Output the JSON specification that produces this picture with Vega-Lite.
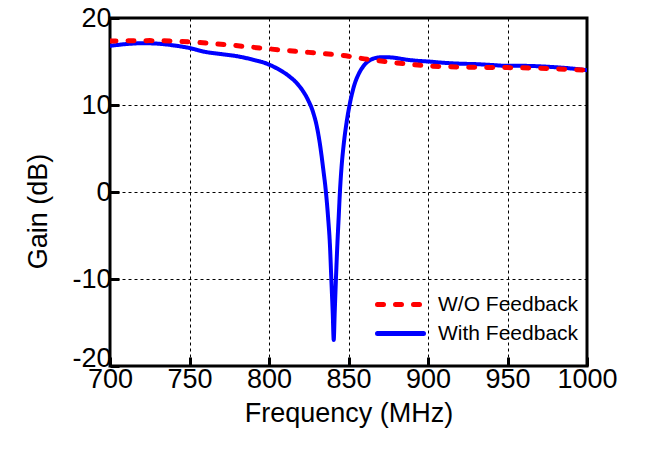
{
  "$schema": "https://vega.github.io/schema/vega-lite/v6.json",
  "width": 477,
  "height": 348,
  "autosize": "none",
  "padding": {"left": 110, "top": 18, "right": 60, "bottom": 89},
  "background": "white",
  "config": {
    "font": "Liberation Sans",
    "view": {"stroke": "black", "strokeWidth": 3},
    "axis": {
      "grid": true,
      "gridColor": "black",
      "gridDash": [3, 3],
      "gridWidth": 1,
      "gridOpacity": 1,
      "domain": false,
      "ticks": true,
      "tickSize": -9,
      "tickWidth": 3,
      "tickColor": "black",
      "labelFontSize": 27,
      "labelColor": "black",
      "labelFont": "Liberation Sans",
      "labelOverlap": false,
      "labelFlush": false,
      "labelExpr": "'' + datum.value",
      "titleFont": "Liberation Sans",
      "titleFontSize": 27,
      "titleFontWeight": "normal",
      "titleColor": "black"
    }
  },
  "datasets": {
    "gain": [
      {"f": 700, "g": 17.35, "s": "W/O Feedback"},
      {"f": 725, "g": 17.4, "s": "W/O Feedback"},
      {"f": 750, "g": 17.25, "s": "W/O Feedback"},
      {"f": 775, "g": 16.9, "s": "W/O Feedback"},
      {"f": 800, "g": 16.45, "s": "W/O Feedback"},
      {"f": 825, "g": 16.05, "s": "W/O Feedback"},
      {"f": 850, "g": 15.6, "s": "W/O Feedback"},
      {"f": 860, "g": 15.3, "s": "W/O Feedback"},
      {"f": 875, "g": 14.95, "s": "W/O Feedback"},
      {"f": 900, "g": 14.5, "s": "W/O Feedback"},
      {"f": 925, "g": 14.35, "s": "W/O Feedback"},
      {"f": 950, "g": 14.3, "s": "W/O Feedback"},
      {"f": 975, "g": 14.2, "s": "W/O Feedback"},
      {"f": 1000, "g": 14.0, "s": "W/O Feedback"},
      {"f": 700, "g": 16.8, "s": "With Feedback"},
      {"f": 710, "g": 17.0, "s": "With Feedback"},
      {"f": 720, "g": 17.1, "s": "With Feedback"},
      {"f": 730, "g": 17.05, "s": "With Feedback"},
      {"f": 740, "g": 16.85, "s": "With Feedback"},
      {"f": 750, "g": 16.55, "s": "With Feedback"},
      {"f": 760, "g": 16.1, "s": "With Feedback"},
      {"f": 770, "g": 15.85, "s": "With Feedback"},
      {"f": 780, "g": 15.6, "s": "With Feedback"},
      {"f": 790, "g": 15.2, "s": "With Feedback"},
      {"f": 800, "g": 14.65, "s": "With Feedback"},
      {"f": 806, "g": 14.1, "s": "With Feedback"},
      {"f": 812, "g": 13.4, "s": "With Feedback"},
      {"f": 817, "g": 12.6, "s": "With Feedback"},
      {"f": 821, "g": 11.7, "s": "With Feedback"},
      {"f": 824.5, "g": 10.6, "s": "With Feedback"},
      {"f": 827.5, "g": 9.3, "s": "With Feedback"},
      {"f": 830, "g": 7.6, "s": "With Feedback"},
      {"f": 832.2, "g": 5.3, "s": "With Feedback"},
      {"f": 834, "g": 2.8, "s": "With Feedback"},
      {"f": 835.8, "g": 0, "s": "With Feedback"},
      {"f": 837.2, "g": -3, "s": "With Feedback"},
      {"f": 838.3, "g": -6, "s": "With Feedback"},
      {"f": 839.2, "g": -10, "s": "With Feedback"},
      {"f": 840.1, "g": -14, "s": "With Feedback"},
      {"f": 840.7, "g": -17, "s": "With Feedback"},
      {"f": 841.3, "g": -14, "s": "With Feedback"},
      {"f": 842.1, "g": -10, "s": "With Feedback"},
      {"f": 843, "g": -6, "s": "With Feedback"},
      {"f": 843.8, "g": -3, "s": "With Feedback"},
      {"f": 844.6, "g": 0, "s": "With Feedback"},
      {"f": 845.6, "g": 2.8, "s": "With Feedback"},
      {"f": 847, "g": 5.5, "s": "With Feedback"},
      {"f": 848.8, "g": 8.0, "s": "With Feedback"},
      {"f": 851, "g": 10.3, "s": "With Feedback"},
      {"f": 853.5, "g": 12.2, "s": "With Feedback"},
      {"f": 856.5, "g": 13.6, "s": "With Feedback"},
      {"f": 859.5, "g": 14.5, "s": "With Feedback"},
      {"f": 863, "g": 15.1, "s": "With Feedback"},
      {"f": 867, "g": 15.4, "s": "With Feedback"},
      {"f": 872, "g": 15.5, "s": "With Feedback"},
      {"f": 878, "g": 15.45, "s": "With Feedback"},
      {"f": 885, "g": 15.25, "s": "With Feedback"},
      {"f": 892, "g": 15.1, "s": "With Feedback"},
      {"f": 900, "g": 15.0, "s": "With Feedback"},
      {"f": 910, "g": 14.85, "s": "With Feedback"},
      {"f": 920, "g": 14.75, "s": "With Feedback"},
      {"f": 930, "g": 14.7, "s": "With Feedback"},
      {"f": 940, "g": 14.6, "s": "With Feedback"},
      {"f": 950, "g": 14.5, "s": "With Feedback"},
      {"f": 960, "g": 14.5, "s": "With Feedback"},
      {"f": 975, "g": 14.4, "s": "With Feedback"},
      {"f": 990, "g": 14.2, "s": "With Feedback"},
      {"f": 1000, "g": 14.0, "s": "With Feedback"}
    ]
  },
  "data": {"name": "gain"},
  "encoding": {
    "x": {
      "field": "f", "type": "quantitative",
      "scale": {"domain": [700, 1000], "nice": false, "zero": false},
      "axis": {
        "values": [700, 750, 800, 850, 900, 950, 1000],
        "title": "Frequency (MHz)",
        "labelPadding": 9,
        "titlePadding": 8
      }
    },
    "y": {
      "field": "g", "type": "quantitative",
      "scale": {"domain": [-20, 20], "nice": false, "zero": false},
      "axis": {
        "values": [-20, -10, 0, 10, 20],
        "title": "Gain (dB)",
        "labelPadding": 8,
        "labelBaseline": {"condition": {"test": "datum.value == -20", "value": "alphabetic"}, "value": "middle"},
        "titleBaseline": "middle",
        "titleAnchor": "middle",
        "titleX": -72,
        "titleY": 193
      }
    },
    "color": {
      "field": "s", "type": "nominal",
      "scale": {"domain": ["W/O Feedback", "With Feedback"], "range": ["#ff0000", "#0000ff"]},
      "legend": {
        "title": null,
        "orient": "none",
        "legendX": 278,
        "legendY": 274,
        "padding": 0,
        "symbolType": "M-2.3,0H2.3",
        "symbolSize": 400,
        "symbolStrokeWidth": 5,
        "labelFontSize": 21,
        "labelFont": "Liberation Sans",
        "labelColor": "black",
        "labelOffset": 25,
        "rowPadding": 6,
        "encode": {"symbols": {"update": {"strokeCap": {"value": "round"}}}}
      }
    },
    "strokeDash": {
      "field": "s", "type": "nominal",
      "scale": {"domain": ["W/O Feedback", "With Feedback"], "range": [[6, 12], [1, 0]]},
      "legend": null
    }
  },
  "layer": [
    {
      "transform": [{"filter": "datum.s == 'With Feedback'"}],
      "mark": {"type": "line", "strokeWidth": 4, "strokeCap": "round", "strokeJoin": "round", "interpolate": "monotone", "clip": true}
    },
    {
      "transform": [{"filter": "datum.s == 'W/O Feedback'"}],
      "mark": {"type": "line", "strokeWidth": 5, "strokeCap": "round", "strokeJoin": "round", "interpolate": "monotone", "clip": true}
    }
  ]
}
